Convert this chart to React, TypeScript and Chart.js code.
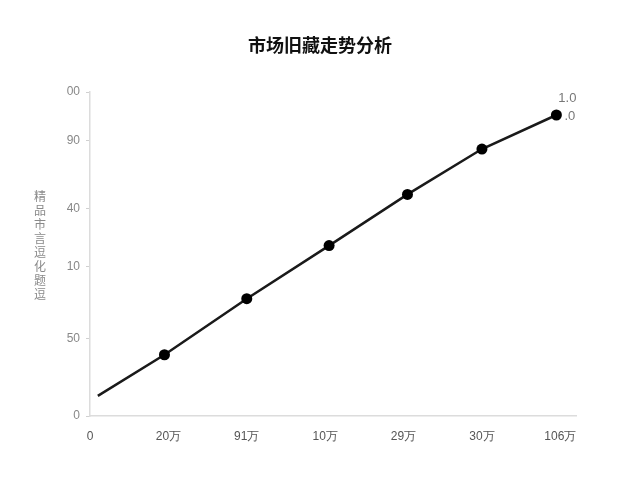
import { useEffect, useRef } from "react"
import { Chart, registerables, Plugin } from "chart.js"

Chart.register(...registerables)

// x positions (in tick units) and values
const pointX = [0.1, 0.95, 2.0, 3.05, 4.05, 5.0, 5.95]
const pointY = [6.2, 18.9, 36.2, 52.6, 68.4, 82.4, 92.9]

const xTickValues = [0, 1, 2, 3, 4, 5, 6]
const xTickLabels = ["0", "20万", "91万", "10万", "29万", "30万", "106万"]

const yTickValues = [0, 24, 46, 64, 85, 100]
const yTickLabels = ["0", "50", "10", "40", "90", "00"]

const chartTitle = "市场旧藏走势分析"
const yTitle = "精品市言逗化题逗"
const endLabels = ["1.0", ".0"]

// page title, vertical stacked y-axis title, labels beside the last point
const extrasPlugin: Plugin<"line"> = {
  id: "extras",
  afterDraw(chart) {
    const ctx = chart.ctx
    ctx.save()
    ctx.textAlign = "center"
    ctx.textBaseline = "middle"

    ctx.fillStyle = "#111"
    ctx.font = "bold 18px 'Noto Sans CJK SC', sans-serif"
    ctx.fillText(chartTitle, chart.width / 2, 45)

    ctx.fillStyle = "#8a8a8a"
    ctx.font = "12px 'Noto Sans CJK SC', sans-serif"
    const chars = Array.from(yTitle)
    const step = 14
    const midY = (chart.chartArea.top + chart.chartArea.bottom) / 2 - 9
    const startY = midY - ((chars.length - 1) * step) / 2
    chars.forEach((ch, i) => ctx.fillText(ch, 40, startY + i * step))

    const meta = chart.getDatasetMeta(0)
    const last = meta.data[meta.data.length - 1]
    if (last) {
      ctx.font = "13px 'Liberation Sans', Arial, sans-serif"
      ctx.fillStyle = "#777"
      ctx.textAlign = "center"
      ctx.fillText(endLabels[0], last.x + 11, last.y - 17)
      ctx.textAlign = "left"
      ctx.fillText(endLabels[1], last.x + 8, last.y + 1)
    }
    ctx.restore()
  },
}

export default function App() {
  const chartRef = useRef<HTMLCanvasElement>(null)
  const chartInstance = useRef<Chart | null>(null)

  useEffect(() => {
    if (!chartRef.current) return
    if (chartInstance.current) chartInstance.current.destroy()

    const ctx = chartRef.current.getContext("2d")
    if (!ctx) return

    const data = pointX.map((x, i) => ({ x, y: pointY[i] }))

    chartInstance.current = new Chart(ctx, {
      type: "line",
      data: {
        datasets: [
          {
            data,
            borderColor: "#1a1a1a",
            borderWidth: 2.5,
            backgroundColor: "#000",
            pointBackgroundColor: "#000",
            pointBorderWidth: 0,
            pointRadius: data.map((_, i) => (i === 0 ? 0 : 5.5)),
            tension: 0,
          },
        ],
      },
      options: {
        animation: false,
        responsive: true,
        maintainAspectRatio: false,
        layout: { padding: { top: 92, left: 0, right: 64, bottom: 30 } },
        scales: {
          x: {
            type: "linear",
            min: 0,
            max: 6.2,
            afterBuildTicks: (scale) => {
              scale.ticks = xTickValues.map((v) => ({ value: v }))
            },
            afterFit: (scale) => {
              scale.height = 34
            },
            grid: { display: false },
            border: { color: "#dcdcdc", width: 1.5 },
            ticks: {
              color: "#555",
              padding: 5,
              font: { size: 12, family: "'Liberation Sans', Arial, sans-serif" },
              callback: (v) => xTickLabels[xTickValues.indexOf(Number(v))] ?? "",
            },
          },
          y: {
            min: 0,
            max: 100,
            afterBuildTicks: (scale) => {
              scale.ticks = yTickValues.map((v) => ({ value: v }))
            },
            afterFit: (scale) => {
              scale.width = 90
            },
            grid: {
              display: true,
              drawOnChartArea: false,
              drawTicks: true,
              tickLength: 4,
              color: "#d0d0d0",
            },
            border: { color: "#dcdcdc", width: 1.5 },
            ticks: {
              color: "#888",
              padding: 6,
              font: { size: 12, family: "'Liberation Sans', Arial, sans-serif" },
              callback: (v) => yTickLabels[yTickValues.indexOf(Number(v))] ?? "",
            },
          },
        },
        plugins: {
          legend: { display: false },
          tooltip: { enabled: false },
          title: { display: false },
        },
      },
      plugins: [extrasPlugin],
    })

    return () => {
      if (chartInstance.current) {
        chartInstance.current.destroy()
        chartInstance.current = null
      }
    }
  }, [])

  return (
    <div style={{ position: "fixed", left: 0, top: 0, width: 640, height: 480, background: "#fff" }}>
      <canvas ref={chartRef} />
    </div>
  )
}
